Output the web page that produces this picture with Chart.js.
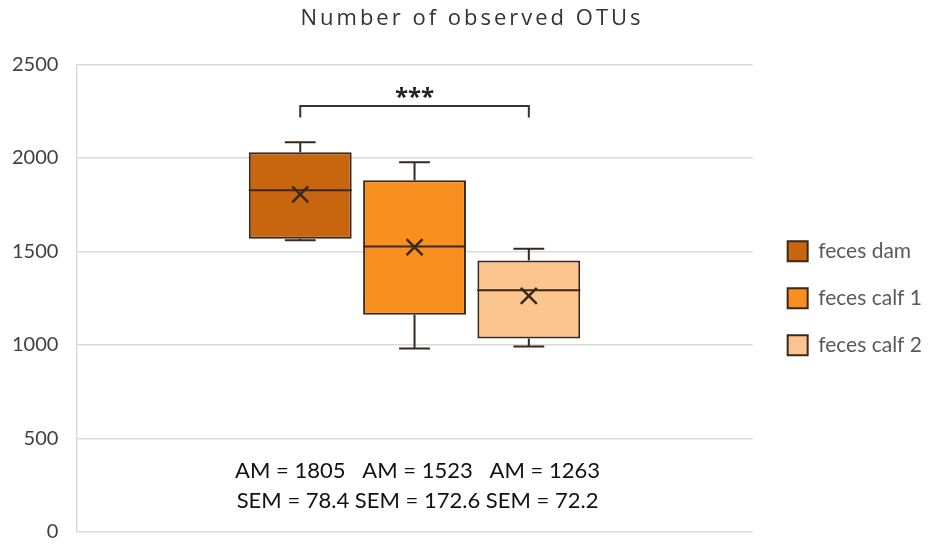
<!DOCTYPE html>
<html>
<head>
<meta charset="utf-8">
<script src="https://cdn.jsdelivr.net/npm/chart.js@4/dist/chart.umd.min.js"></script>
<style>
  html, body { margin: 0; padding: 0; background: #ffffff; }
  canvas { display: block; }
</style>
</head>
<body>
<canvas id="otus" width="928" height="544"></canvas>
<script>
// Observed OTU counts per sample group (box plot summary)
const groups = ['feces dam', 'feces calf 1', 'feces calf 2'];
const lowerWhisker = [1560, 981, 992];
const quartile1 = [1568, 1162, 1035];
const medians = [1827, 1527, 1292];
const quartile3 = [2030, 1881, 1451];
const upperWhisker = [2084, 1977, 1515];
const means = [1805, 1523, 1263];
const sems = [78.4, 172.6, 72.2];
const yTicks = [0, 500, 1000, 1500, 2000, 2500];
// significance bracket between the first and last group
const significance = { from: 0, to: 2, level: 2277, drop: 2216, label: '***' };

const fills = ['#c8650f', '#f98f1f', '#fcc48e'];
const edge = '#3a281b';
const grid = '#dadada';
const legendGap = 9;

const boxPlotMarks = {
  id: 'boxPlotMarks',
  afterInit(chart) {
    // spaced-out lettering for the chart title
    const block = chart.titleBlock;
    if (block) {
      const drawTitle = block.draw.bind(block);
      block.draw = function (area) {
        chart.ctx.save();
        chart.ctx.letterSpacing = '3px';
        drawTitle(area);
        chart.ctx.restore();
      };
    }
    // leave a small gap between the plot area and the legend
    const legend = chart.legend;
    if (legend) {
      const fitLegend = legend.fit.bind(legend);
      const drawLegend = legend.draw.bind(legend);
      legend.fit = function () {
        fitLegend();
        this.width += legendGap;
      };
      legend.draw = function () {
        chart.ctx.save();
        chart.ctx.translate(legendGap, 0);
        drawLegend();
        chart.ctx.restore();
      };
    }
  },
  // whiskers, medians, mean crosses, bracket and the AM / SEM captions
  afterDatasetsDraw(chart) {
    const { ctx, chartArea } = chart;
    const y = chart.scales.y;
    const py = v => y.getPixelForValue(v);
    const bars = groups.map((g, i) => chart.getDatasetMeta(i).data[0]);
    ctx.save();
    ctx.strokeStyle = edge;
    ctx.lineCap = 'butt';
    bars.forEach((bar, i) => {
      const x = bar.x;
      const half = bar.width / 2;
      const cap = bar.width * 0.15;
      ctx.lineWidth = 2;
      ctx.beginPath();
      ctx.moveTo(x, py(quartile3[i]));
      ctx.lineTo(x, py(upperWhisker[i]));
      ctx.moveTo(x - cap, py(upperWhisker[i]));
      ctx.lineTo(x + cap, py(upperWhisker[i]));
      ctx.moveTo(x, py(quartile1[i]));
      ctx.lineTo(x, py(lowerWhisker[i]));
      ctx.moveTo(x - cap, py(lowerWhisker[i]));
      ctx.lineTo(x + cap, py(lowerWhisker[i]));
      ctx.moveTo(x - half, py(medians[i]));
      ctx.lineTo(x + half, py(medians[i]));
      ctx.stroke();
      // mean marker
      const my = py(means[i]);
      const s = 8;
      ctx.lineWidth = 2.5;
      ctx.beginPath();
      ctx.moveTo(x - s, my - s);
      ctx.lineTo(x + s, my + s);
      ctx.moveTo(x - s, my + s);
      ctx.lineTo(x + s, my - s);
      ctx.stroke();
    });

    // bracket
    const xa = bars[significance.from].x;
    const xb = bars[significance.to].x;
    const yl = py(significance.level);
    const yd = py(significance.drop);
    ctx.lineWidth = 2;
    ctx.strokeStyle = '#333333';
    ctx.beginPath();
    ctx.moveTo(xa, yd);
    ctx.lineTo(xa, yl);
    ctx.lineTo(xb, yl);
    ctx.lineTo(xb, yd);
    ctx.stroke();
    ctx.fillStyle = '#222222';
    ctx.font = 'bold 24px "Open Sans"';
    ctx.textAlign = 'center';
    ctx.textBaseline = 'alphabetic';
    ctx.fillText(significance.label, (xa + xb) / 2, yl - 1);

    // AM / SEM captions
    const cx = bars[1].x + 3;
    ctx.textBaseline = 'middle';
    ctx.fillStyle = '#111111';
    ctx.font = '22px Lato';
    ctx.fillText(means.map(m => 'AM = ' + m).join('   '), cx, chartArea.bottom - 61);
    ctx.fillText(sems.map(s => 'SEM = ' + s).join(' '), cx, chartArea.bottom - 31);
    ctx.restore();
  }
};

new Chart(document.getElementById('otus'), {
  type: 'bar',
  data: {
    labels: [''],
    datasets: groups.map((g, i) => ({
      label: g,
      data: [[quartile1[i], quartile3[i]]],
      backgroundColor: fills[i],
      borderColor: edge,
      borderWidth: 2,
      borderSkipped: false,
      categoryPercentage: 0.507,
      barPercentage: 0.9
    }))
  },
  options: {
    responsive: false,
    animation: false,
    devicePixelRatio: 1,
    layout: { padding: { left: 12, right: -4, top: 0, bottom: 0 } },
    plugins: {
      title: {
        display: true,
        text: 'Number of observed OTUs',
        color: '#333333',
        font: { family: 'Open Sans', size: 22, weight: 'normal' },
        padding: { top: 6, bottom: 32 }
      },
      legend: {
        position: 'right',
        fullSize: false,
        labels: {
          boxWidth: 20,
          boxHeight: 20,
          padding: 26,
          color: '#595959',
          font: { family: 'Lato', size: 21 }
        }
      },
      tooltip: { enabled: false }
    },
    scales: {
      x: { display: false },
      y: {
        min: 0,
        max: 2500,
        afterBuildTicks(scale) { scale.ticks = yTicks.map(v => ({ value: v })); },
        grid: { color: grid, lineWidth: 1.5, drawTicks: true, tickLength: 18, tickColor: 'rgba(0,0,0,0)' },
        border: { display: true, color: grid, width: 1.5 },
        ticks: { color: '#404040', padding: 0, font: { family: 'Lato', size: 20 }, callback: v => String(v) }
      }
    }
  },
  plugins: [boxPlotMarks]
});
</script>
</body>
</html>
